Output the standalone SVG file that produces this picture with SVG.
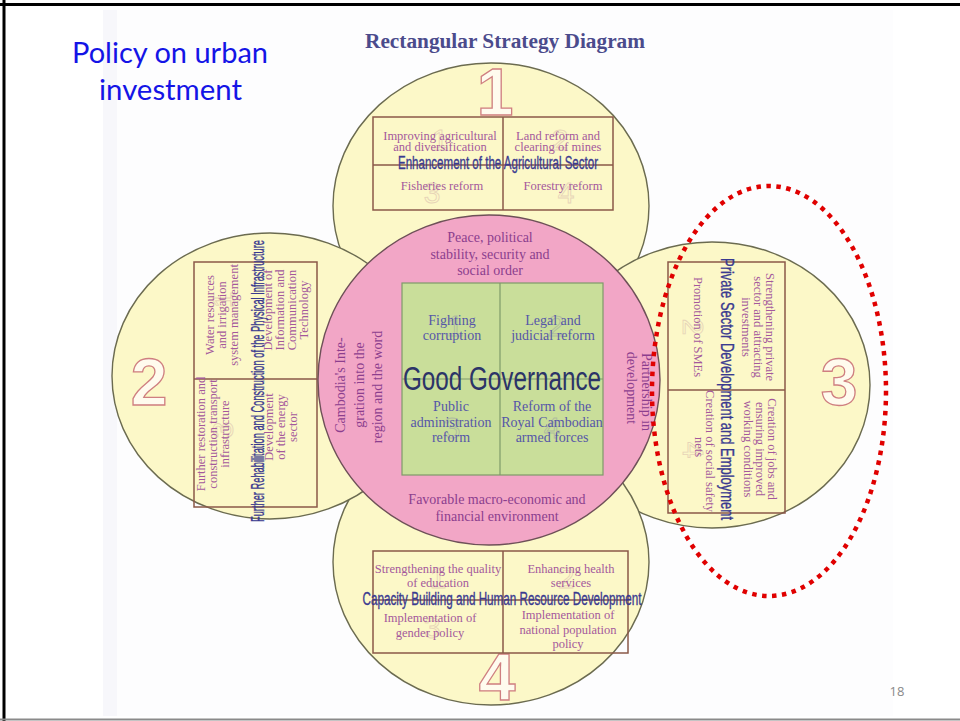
<svg xmlns="http://www.w3.org/2000/svg" width="960" height="721" viewBox="0 0 960 721">
  <defs>
    <style>
      .pillar { fill: #fcf8c8; stroke: #6b6b50; stroke-width: 1.4; }
      .core { fill: #f2a6c6; stroke: #6e5058; stroke-width: 1.4; }
      .gov { fill: #c9de9a; stroke: #7f9a6a; stroke-width: 1.2; }
      .box { fill: none; stroke: #8a5848; stroke-width: 1.5; }
      .divider { stroke: #8a5848; stroke-width: 1.5; }
      .govline { stroke: #7f9a6a; stroke-width: 1.2; }
      .item { font-family: "Liberation Serif", "Times New Roman", serif; font-size: 12.5px; fill: #a4589c; text-anchor: middle; }
      .ring { font-family: "Liberation Serif", "Times New Roman", serif; font-size: 14px; fill: #8c3e8e; text-anchor: middle; }
      .green { font-family: "Liberation Serif", "Times New Roman", serif; font-size: 14px; fill: #5656a8; text-anchor: middle; }
      .head { font-family: "Liberation Sans", Arial, sans-serif; font-size: 17.5px; fill: #3a3a90; stroke: #3a3a90; stroke-width: 0.35; text-anchor: middle; }
      .bignum { font-family: "Liberation Sans", Arial, sans-serif; font-weight: bold; font-size: 66px; fill: #fffbee; stroke: #cf7f80; stroke-width: 1.3; text-anchor: middle; }
      .ghost { font-family: "Liberation Sans", Arial, sans-serif; font-size: 30px; fill: none; stroke: #c8a0a0; stroke-width: 0.9; opacity: 0.4; text-anchor: middle; }
    </style>
  </defs>

  <!-- slide background and frame -->
  <rect x="0" y="0" width="960" height="721" fill="#ffffff"/>
  <rect x="103" y="10" width="790" height="706" fill="#fdfdfe"/>
  <rect x="103" y="10" width="14" height="706" fill="#f7f7fb"/>
  <line x1="0" y1="4.5" x2="960" y2="4.5" stroke="#000" stroke-width="3"/>
  <line x1="4" y1="0" x2="4" y2="721" stroke="#000" stroke-width="3"/>
  <line x1="0" y1="719.5" x2="960" y2="719.5" stroke="#8a8a8a" stroke-width="2"/>

  <!-- slide heading -->
  <g id="slide-title" font-family="Lato, 'Open Sans', sans-serif" font-size="29" fill="#1414e6" text-anchor="middle">
    <text x="170" y="63" textLength="196" lengthAdjust="spacingAndGlyphs">Policy on urban</text>
    <text x="170.5" y="100" textLength="143" lengthAdjust="spacingAndGlyphs">investment</text>
  </g>

  <!-- diagram heading -->
  <text x="505" y="48" font-family="'Liberation Serif', 'Times New Roman', serif" font-weight="bold" font-size="20" fill="#4b4b8c" text-anchor="middle" textLength="280" lengthAdjust="spacingAndGlyphs">Rectangular Strategy Diagram</text>

  <!-- pillar 1: agriculture -->
  <g id="pillar-1">
    <ellipse class="pillar" cx="491" cy="206" rx="158" ry="143"/>
    <text class="bignum" x="495" y="115">1</text>
    <text class="ghost" x="440" y="150">1</text>
    <text class="ghost" x="560" y="150">2</text>
    <text class="ghost" x="432" y="203">3</text>
    <text class="ghost" x="566" y="203">4</text>
    <rect class="box" x="373" y="117" width="240" height="93"/>
    <line class="divider" x1="503" y1="117" x2="503" y2="210"/>
    <line class="divider" x1="373" y1="165" x2="613" y2="165"/>
    <text class="item" x="440" y="140">Improving agricultural</text>
    <text class="item" x="440" y="151">and diversification</text>
    <text class="item" x="558" y="140">Land reform and</text>
    <text class="item" x="558" y="151">clearing of mines</text>
    <text class="item" x="442" y="190">Fisheries reform</text>
    <text class="item" x="563" y="190">Forestry reform</text>
    <text class="head" x="498" y="169" textLength="200" lengthAdjust="spacingAndGlyphs">Enhancement of the Agricultural Sector</text>
  </g>

  <!-- pillar 3: private sector -->
  <g id="pillar-3">
    <ellipse class="pillar" cx="712" cy="385" rx="158" ry="143"/>
    <text class="bignum" x="839" y="405">3</text>
    <rect class="box" x="668" y="262" width="117" height="251"/>
    <line class="divider" x1="668" y1="390" x2="785" y2="390"/>
    <text class="ghost" transform="translate(683,327) rotate(90)">2</text>
    <text class="ghost" transform="translate(683,450) rotate(90)">4</text>
    <text class="item" transform="translate(766,327) rotate(90)">Strengthening private</text>
    <text class="item" transform="translate(754,327) rotate(90)">sector and attracting</text>
    <text class="item" transform="translate(742,327) rotate(90)">investments</text>
    <text class="item" transform="translate(694,327) rotate(90)">Promotion of SMEs</text>
    <text class="item" transform="translate(768,449) rotate(90)">Creation of jobs and</text>
    <text class="item" transform="translate(756,449) rotate(90)">ensuring improved</text>
    <text class="item" transform="translate(744,449) rotate(90)">working conditions</text>
    <text class="item" transform="translate(706,451) rotate(90)">Creation of social safety</text>
    <text class="item" transform="translate(695,447) rotate(90)">nets</text>
    <text class="head" transform="translate(721,389) rotate(90)" textLength="262" lengthAdjust="spacingAndGlyphs">Private Sector Development and Employment</text>
  </g>

  <!-- pillar 4: human resources -->
  <g id="pillar-4">
    <ellipse class="pillar" cx="491" cy="562" rx="158" ry="143"/>
    <text class="bignum" x="497" y="700">4</text>
    <text class="ghost" x="438" y="588">1</text>
    <text class="ghost" x="566" y="588">2</text>
    <text class="ghost" x="432" y="638">3</text>
    <rect class="box" x="373" y="551" width="255" height="102"/>
    <line class="divider" x1="503" y1="551" x2="503" y2="653"/>
    <line class="divider" x1="373" y1="600" x2="628" y2="600"/>
    <text class="item" x="438" y="573">Strengthening the quality</text>
    <text class="item" x="438" y="587">of education</text>
    <text class="item" x="571" y="573">Enhancing health</text>
    <text class="item" x="571" y="587">services</text>
    <text class="item" x="430" y="622">Implementation of</text>
    <text class="item" x="430" y="637">gender policy</text>
    <text class="item" x="568" y="619">Implementation of</text>
    <text class="item" x="568" y="634">national population</text>
    <text class="item" x="568" y="648">policy</text>
    <text class="head" x="502" y="605" textLength="279" lengthAdjust="spacingAndGlyphs">Capacity Building and Human Resource Development</text>
  </g>

  <!-- pillar 2: physical infrastructure -->
  <g id="pillar-2">
    <ellipse class="pillar" cx="270" cy="376" rx="158" ry="143"/>
    <text class="bignum" x="149" y="405">2</text>
    <rect class="box" x="194" y="262" width="123" height="245"/>
    <line class="divider" x1="194" y1="379" x2="317" y2="379"/>
    <text class="ghost" transform="translate(233,300) rotate(-90)">1</text>
    <text class="ghost" transform="translate(233,430) rotate(-90)">3</text>
    <text class="item" transform="translate(214,315) rotate(-90)">Water resources</text>
    <text class="item" transform="translate(226,315) rotate(-90)">and irrigation</text>
    <text class="item" transform="translate(238,315) rotate(-90)">system management</text>
    <text class="item" transform="translate(272,310) rotate(-90)">Development of</text>
    <text class="item" transform="translate(284,310) rotate(-90)">Information and</text>
    <text class="item" transform="translate(296,310) rotate(-90)">Communication</text>
    <text class="item" transform="translate(308,310) rotate(-90)">Technology</text>
    <text class="item" transform="translate(205,434) rotate(-90)">Further restoration and</text>
    <text class="item" transform="translate(217,434) rotate(-90)">construction transport</text>
    <text class="item" transform="translate(229,434) rotate(-90)">infrastructure</text>
    <text class="item" transform="translate(273,427) rotate(-90)">Development</text>
    <text class="item" transform="translate(285,427) rotate(-90)">of the energy</text>
    <text class="item" transform="translate(297,427) rotate(-90)">sector</text>
    <text class="head" transform="translate(264,381) rotate(-90)" textLength="282" lengthAdjust="spacingAndGlyphs">Further Rehabilitation and Construction of the Physical Infrastructure</text>
  </g>

  <!-- core: good governance -->
  <g id="core">
    <ellipse class="core" cx="489" cy="380" rx="171" ry="165"/>
    <text class="ring" x="490" y="242">Peace, political</text>
    <text class="ring" x="490" y="259">stability, security and</text>
    <text class="ring" x="490" y="275">social order</text>
    <text class="ring" x="497" y="504">Favorable macro-economic and</text>
    <text class="ring" x="497" y="521">financial environment</text>
    <text class="ring" transform="translate(345,385) rotate(-90)">Cambodia's Inte-</text>
    <text class="ring" transform="translate(364,385) rotate(-90)">gration  into the</text>
    <text class="ring" transform="translate(382,387) rotate(-90)">region and the word</text>
    <text class="ring" transform="translate(642,392) rotate(90)">Partnership in</text>
    <text class="ring" transform="translate(627,388) rotate(90)">development</text>
    <rect class="gov" x="402" y="283" width="201" height="192"/>
    <line class="govline" x1="500" y1="283" x2="500" y2="475"/>
    <line class="govline" x1="402" y1="379" x2="603" y2="379"/>
    <text class="ghost" x="455" y="336" style="stroke:#8a8aa8">1</text>
    <text class="ghost" x="556" y="336" style="stroke:#8a8aa8">2</text>
    <text class="ghost" x="452" y="438" style="stroke:#8a8aa8">3</text>
    <text class="ghost" x="552" y="438" style="stroke:#8a8aa8">4</text>
    <text class="green" x="452" y="325">Fighting</text>
    <text class="green" x="452" y="340">corruption</text>
    <text class="green" x="553" y="325">Legal and</text>
    <text class="green" x="553" y="340">judicial reform</text>
    <text class="green" x="451" y="411">Public</text>
    <text class="green" x="451" y="427">administration</text>
    <text class="green" x="451" y="442">reform</text>
    <text class="green" x="552" y="411">Reform of the</text>
    <text class="green" x="552" y="427">Royal Cambodian</text>
    <text class="green" x="552" y="442">armed forces</text>
    <text x="502" y="390" font-family="'Liberation Sans', Arial, sans-serif" font-size="34" fill="#2c3468" text-anchor="middle" textLength="198" lengthAdjust="spacingAndGlyphs">Good Governance</text>
  </g>

  <!-- highlight around pillar 3 -->
  <g id="highlight">
    <ellipse cx="769" cy="391" rx="117" ry="205" fill="none" stroke="#e00000" stroke-width="4.5" stroke-dasharray="4.5 5.5"/>
  </g>

  <!-- page number -->
  <text x="897" y="696" font-family="'Open Sans', 'Liberation Sans', sans-serif" font-size="13" fill="#8a8a8a" text-anchor="middle">18</text>
</svg>
